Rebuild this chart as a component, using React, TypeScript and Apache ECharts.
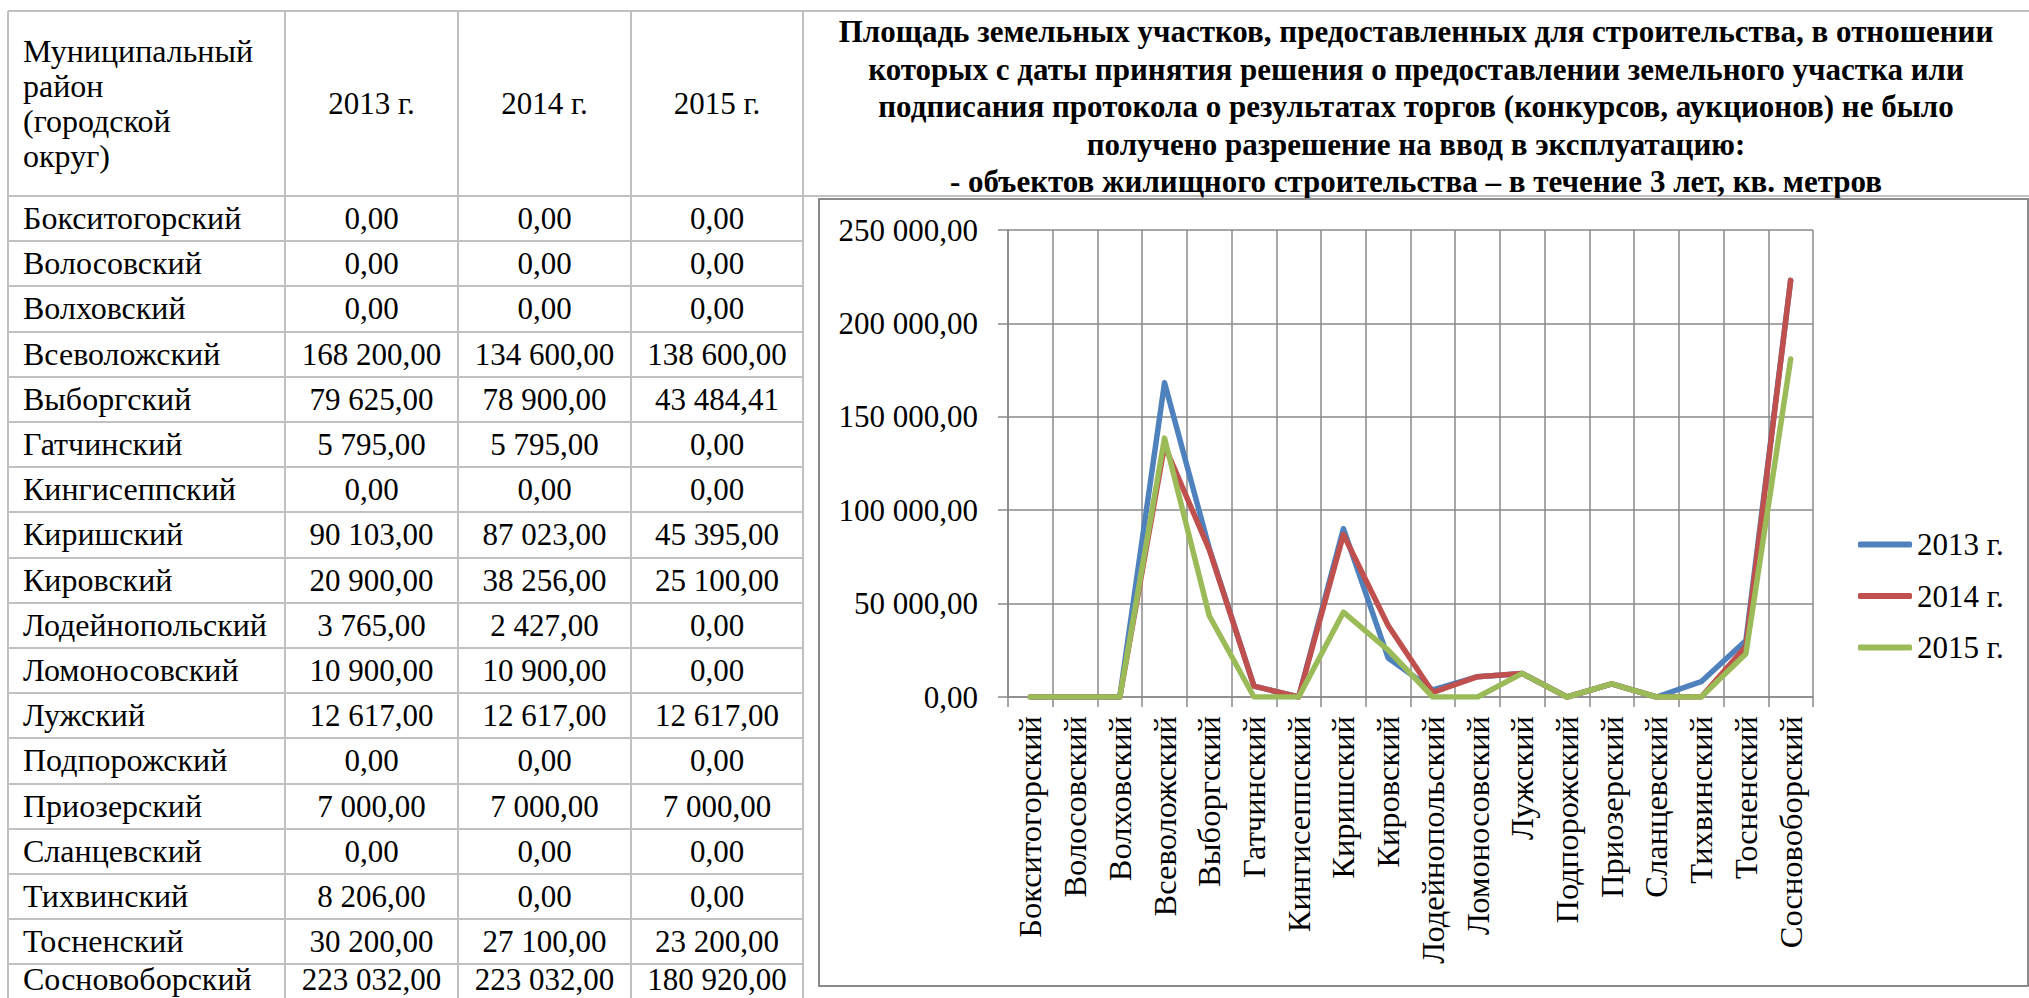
import React, { useEffect, useRef } from "react";
import * as echarts from "echarts";

const districts = [
  "Бокситогорский",
  "Волосовский",
  "Волховский",
  "Всеволожский",
  "Выборгский",
  "Гатчинский",
  "Кингисеппский",
  "Киришский",
  "Кировский",
  "Лодейнопольский",
  "Ломоносовский",
  "Лужский",
  "Подпорожский",
  "Приозерский",
  "Сланцевский",
  "Тихвинский",
  "Тосненский",
  "Сосновоборский",
];

const values2013 = [0, 0, 0, 168200, 79625, 5795, 0, 90103, 20900, 3765, 10900, 12617, 0, 7000, 0, 8206, 30200, 223032];
const values2014 = [0, 0, 0, 134600, 78900, 5795, 0, 87023, 38256, 2427, 10900, 12617, 0, 7000, 0, 0, 27100, 223032];
const values2015 = [0, 0, 0, 138600, 43484.41, 0, 0, 45395, 25100, 0, 0, 12617, 0, 7000, 0, 0, 23200, 180920];

const seriesNames = ["2013 г.", "2014 г.", "2015 г."];
const seriesColors = ["#4F81BD", "#C0504D", "#9BBB59"];

const headerFirst = ["Муниципальный", "район", "(городской", "округ)"];

const titleLines = [
  "Площадь земельных участков, предоставленных для строительства, в отношении",
  "которых с даты принятия решения о предоставлении земельного участка или",
  "подписания протокола о результатах торгов (конкурсов, аукционов) не было",
  "получено разрешение на ввод в эксплуатацию:",
  "- объектов жилищного строительства – в течение 3 лет, кв. метров",
];

function fmt(v: number): string {
  const [i, d] = v.toFixed(2).split(".");
  const grouped = i.replace(/\B(?=(\d{3})+(?!\d))/g, "\u00a0");
  return grouped + "," + d;
}

const FONT = "'Liberation Serif', 'Times New Roman', serif";
const BORDER = "#c0c0c0";
const colX = [8, 285, 458, 631, 803];
const tableTop = 11;
const headerBottom = 196;
const rowH = 45.2;

export default function App() {
  const ref = useRef<HTMLDivElement>(null);

  useEffect(() => {
    const chart = echarts.init(ref.current!, null, { renderer: "svg" });
    const gridColor = "#8a8a8a";
    const allValues = [values2013, values2014, values2015];
    chart.setOption({
      animation: false,
      textStyle: { fontFamily: FONT },
      grid: { left: 188, top: 30, width: 805, height: 467 },
      legend: {
        orient: "vertical",
        left: 1033,
        top: 324,
        itemWidth: 54,
        itemHeight: 6,
        itemGap: 20.5,
        icon: "roundRect",
        data: seriesNames,
        textStyle: { fontSize: 31, color: "#000", fontFamily: FONT, lineHeight: 31 },
      },
      xAxis: {
        type: "category",
        data: districts,
        boundaryGap: true,
        axisLine: { show: true, lineStyle: { color: gridColor, width: 1.5 } },
        axisTick: { show: true, inside: false, length: 10, lineStyle: { color: gridColor, width: 1.5 } },
        splitLine: { show: true, lineStyle: { color: gridColor, width: 1.5 } },
        axisLabel: {
          rotate: 90,
          interval: 0,
          margin: 19,
          fontSize: 32.5,
          color: "#000",
          fontFamily: FONT,
        },
      },
      yAxis: {
        type: "value",
        min: 0,
        max: 250000,
        interval: 50000,
        axisLine: { show: true, lineStyle: { color: gridColor, width: 1.5 } },
        axisTick: { show: true, inside: false, length: 10, lineStyle: { color: gridColor, width: 1.5 } },
        splitLine: { show: true, lineStyle: { color: gridColor, width: 1.5 } },
        axisLabel: {
          formatter: (v: number) => fmt(v),
          fontSize: 31,
          margin: 30,
          color: "#000",
          fontFamily: FONT,
        },
      },
      series: seriesNames.map((name, i) => ({
        type: "line",
        name,
        data: allValues[i],
        symbol: "none",
        lineStyle: { width: 5.5, color: seriesColors[i], cap: "round", join: "round" },
        itemStyle: { color: seriesColors[i] },
      })),
    });
    return () => chart.dispose();
  }, []);

  const hLines: React.ReactNode[] = [];
  hLines.push(<div key="ht" style={{ position: "absolute", left: colX[0], top: tableTop - 1, width: 2029 - colX[0], height: 2, background: BORDER }} />);
  hLines.push(<div key="hh" style={{ position: "absolute", left: colX[0], top: headerBottom - 1, width: 2029 - colX[0], height: 2, background: BORDER }} />);
  for (let k = 1; k < districts.length; k++) {
    hLines.push(
      <div key={"h" + k} style={{ position: "absolute", left: colX[0], top: headerBottom + k * rowH - 1, width: colX[4] - colX[0], height: 2, background: BORDER }} />
    );
  }
  const vLines = colX.map((x, i) => (
    <div key={"v" + i} style={{ position: "absolute", left: x - 1, top: tableTop, width: 2, height: 998 - tableTop, background: BORDER }} />
  ));

  const cell = (
    key: string,
    left: number,
    top: number,
    width: number,
    height: number,
    text: string,
    align: "left" | "center",
    fontSize: number
  ) => (
    <div
      key={key}
      style={{
        position: "absolute",
        left,
        top,
        width,
        height,
        display: "flex",
        alignItems: "center",
        justifyContent: align === "left" ? "flex-start" : "center",
        paddingLeft: align === "left" ? 15 : 0,
        boxSizing: "border-box",
        fontSize,
        lineHeight: "31px",
        whiteSpace: "nowrap",
      }}
    >
      {text}
    </div>
  );

  const cells: React.ReactNode[] = [];
  seriesNames.forEach((n, j) => {
    cells.push(cell("hy" + j, colX[j + 1], tableTop, colX[j + 2] - colX[j + 1], headerBottom - tableTop, n, "center", 31));
  });
  const cols = [values2013, values2014, values2015];
  districts.forEach((d, r) => {
    const last = r === districts.length - 1;
    const top = headerBottom + r * rowH;
    const h = last ? 998 - top - 3 : rowH;
    cells.push(cell("d" + r, colX[0], top, colX[1] - colX[0], h, d, "left", 32));
    cols.forEach((c, j) => {
      cells.push(cell("c" + r + "_" + j, colX[j + 1], top, colX[j + 2] - colX[j + 1], h, fmt(c[r]), "center", 31));
    });
  });

  return (
    <div
      style={{
        position: "fixed",
        left: 0,
        top: 0,
        width: 2029,
        height: 998,
        background: "#fff",
        overflow: "hidden",
        fontFamily: FONT,
        color: "#000",
      }}
    >
      {hLines}
      {vLines}
      <div
        style={{
          position: "absolute",
          left: 23,
          top: tableTop,
          height: headerBottom - tableTop,
          display: "flex",
          flexDirection: "column",
          justifyContent: "center",
          fontSize: 32,
          lineHeight: "35px",
        }}
      >
        {headerFirst.map((t, i) => (
          <div key={i}>{t}</div>
        ))}
      </div>
      {cells}
      <div
        style={{
          position: "absolute",
          left: 803,
          top: 13,
          width: 1226,
          textAlign: "center",
          fontSize: 31,
          fontWeight: "bold",
          lineHeight: "37.5px",
          whiteSpace: "nowrap",
        }}
      >
        {titleLines.map((t, i) => (
          <div key={i}>{t}</div>
        ))}
      </div>
      <div
        style={{
          position: "absolute",
          left: 818,
          top: 198,
          width: 1211,
          height: 789,
          border: "2px solid #8a8a8a",
          boxSizing: "border-box",
          background: "#fff",
        }}
      >
        <div ref={ref} style={{ width: 1207, height: 785 }} />
      </div>
    </div>
  );
}
